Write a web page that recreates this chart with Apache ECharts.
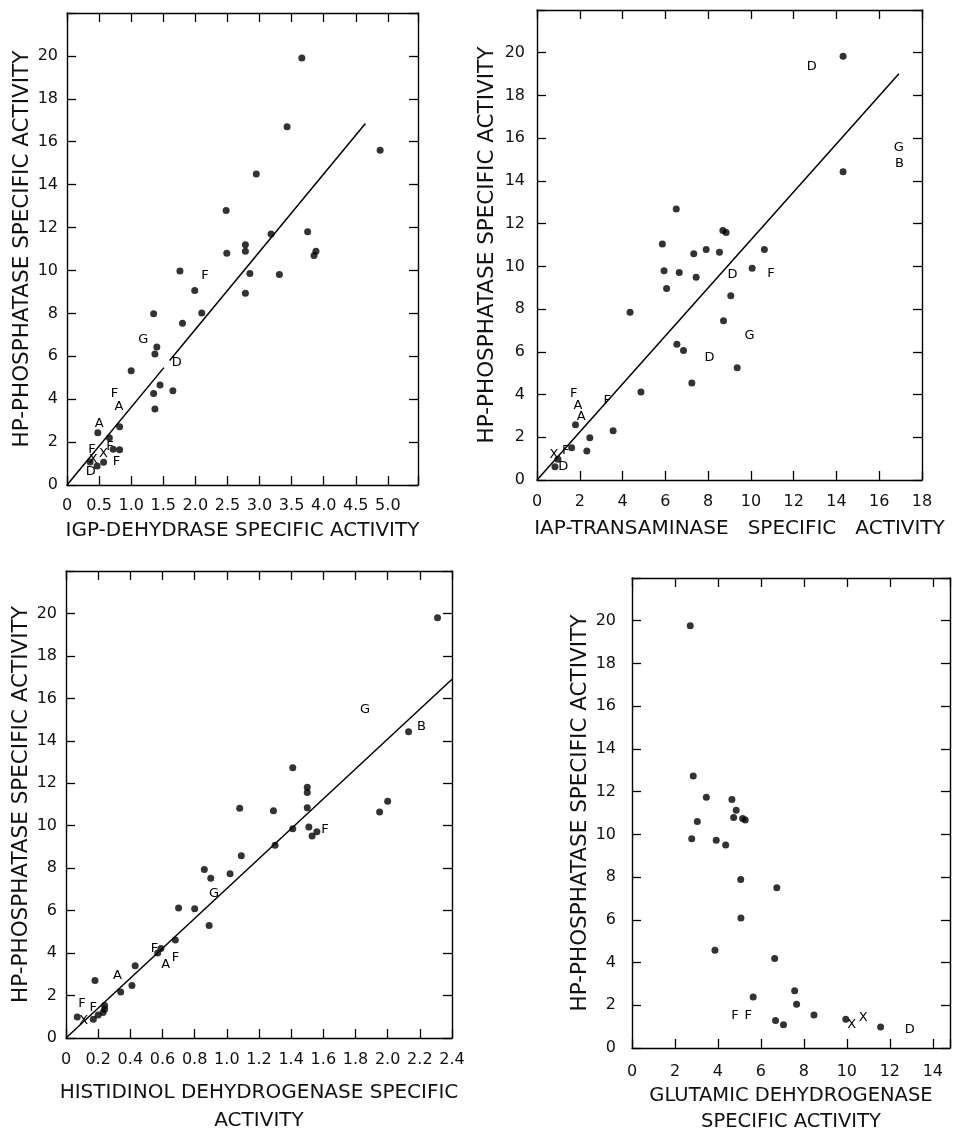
<!DOCTYPE html>
<html>
<head>
<meta charset="utf-8">
<script src="https://cdn.jsdelivr.net/npm/echarts@6/dist/echarts.min.js"></script>
<style>
html,body{margin:0;padding:0;background:#fff;}
#chart{width:955px;height:1136px;}
</style>
</head>
<body>
<div id="chart"></div>
<script>
// ---------- DATA ----------
var yTickLabels = ['0','2','4','6','8','10','12','14','16','18','20'];

// Panel 1: IGP-dehydrase
var p1XTicks = ['0','0.5','1.0','1.5','2.0','2.5','3.0','3.5','4.0','4.5','5.0'];
var p1Dots = [[3.66,19.9],[3.43,16.7],[4.88,15.6],[2.95,14.5],[2.48,12.8],[3.75,11.8],[3.18,11.7],
  [2.78,11.2],[2.78,10.9],[2.49,10.8],[3.88,10.9],[3.85,10.7],[1.76,9.97],[2.85,9.86],[3.31,9.81],
  [1.99,9.07],[2.78,8.94],[1.35,7.98],[2.10,8.02],[1.80,7.54],[1.40,6.43],[1.37,6.11],[1.00,5.33],
  [1.45,4.66],[1.35,4.27],[1.65,4.39],[1.37,3.54],[0.48,2.43],[0.82,2.72],[0.66,2.20],[0.72,1.67],
  [0.82,1.64],[0.57,1.06],[0.47,0.89],[0.36,1.07]];
var p1Letters = [['F',2.15,9.77],['G',1.19,6.78],['D',1.71,5.69],['F',0.74,4.28],['A',0.81,3.63],
  ['A',0.50,2.88],['F',0.39,1.67],['F',0.67,1.79],['X',0.57,1.45],['X',0.41,1.20],['F',0.77,1.09],['D',0.37,0.62]];
var p1LineA = [[0,0],[1.51,5.47]];
var p1LineB = [[1.60,5.80],[4.65,16.85]];

// Panel 2: IAP-transaminase
var p2XTicks = ['0','2','4','6','8','10','12','14','16','18'];
var p2Dots = [[14.31,19.83],[14.31,14.43],[6.51,12.69],[5.86,11.05],[8.69,11.68],[8.84,11.58],[7.33,10.59],
  [7.91,10.79],[8.53,10.66],[10.63,10.79],[5.94,9.79],[6.65,9.71],[7.44,9.49],[6.06,8.96],[10.06,9.91],
  [9.06,8.63],[4.35,7.85],[8.72,7.45],[6.54,6.35],[6.85,6.06],[9.36,5.25],[7.24,4.54],[4.86,4.12],
  [1.80,2.59],[3.56,2.31],[2.47,1.98],[2.33,1.36],[1.62,1.51],[0.98,0.97],[0.84,0.62]];
var p2Letters = [['D',12.84,19.36],['G',16.92,15.57],['B',16.95,14.79],['D',9.14,9.63],['F',10.94,9.68],
  ['G',9.94,6.74],['D',8.07,5.75],['F',1.72,4.06],['A',1.91,3.48],['A',2.07,2.97],['F',3.28,3.71],
  ['F',1.34,1.37],['X',0.79,1.17],['D',1.23,0.62]];
var p2Line = [[0,0],[16.92,19.02]];

// Panel 3: Histidinol dehydrogenase
var p3XTicks = ['0','0.2','0.4','0.6','0.8','1.0','1.2','1.4','1.6','1.8','2.0','2.2','2.4'];
var p3Dots = [[2.31,19.8],[2.13,14.43],[1.41,12.73],[1.50,11.81],[1.50,11.57],[1.50,10.85],[1.08,10.82],
  [1.29,10.70],[2.00,11.15],[1.95,10.65],[1.51,9.94],[1.56,9.72],[1.53,9.52],[1.41,9.86],[1.30,9.08],
  [1.09,8.59],[0.86,7.94],[1.02,7.74],[0.90,7.52],[0.70,6.12],[0.80,6.09],[0.89,5.30],[0.68,4.62],
  [0.59,4.22],[0.57,4.00],[0.43,3.40],[0.18,2.71],[0.41,2.47],[0.34,2.17],[0.24,1.53],[0.24,1.35],
  [0.23,1.20],[0.20,1.08],[0.07,0.99],[0.17,0.88]];
var p3Letters = [['G',1.86,15.49],['B',2.21,14.67],['F',1.61,9.83],['G',0.92,6.82],['F',0.55,4.22],
  ['A',0.62,3.44],['F',0.68,3.78],['A',0.32,2.93],['F',0.10,1.63],['F',0.17,1.43],['X',0.11,0.84]];
var p3Line = [[0,0],[2.4,16.9]];

// Panel 4: Glutamic dehydrogenase
var p4XTicks = ['0','2','4','6','8','10','12','14'];
var p4Dots = [[2.71,19.77],[2.85,12.73],[3.46,11.74],[4.65,11.63],[4.85,11.13],[4.73,10.79],[5.15,10.74],
  [5.27,10.67],[3.04,10.60],[2.78,9.80],[3.92,9.72],[4.36,9.50],[5.06,7.89],[6.74,7.50],[5.07,6.08],
  [3.86,4.57],[6.64,4.19],[7.57,2.68],[5.64,2.39],[7.66,2.05],[8.47,1.55],[6.68,1.29],[7.05,1.09],
  [9.95,1.35],[11.57,0.98]];
var p4Letters = [['F',4.79,1.52],['F',5.41,1.52],['X',10.22,1.09],['X',10.76,1.44],['D',12.93,0.87]];

var yTitle = 'HP-PHOSPHATASE SPECIFIC ACTIVITY';
var xTitles = ['IGP-DEHYDRASE SPECIFIC ACTIVITY','IAP-TRANSAMINASE   SPECIFIC   ACTIVITY',
  'HISTIDINOL DEHYDROGENASE SPECIFIC\nACTIVITY','GLUTAMIC DEHYDROGENASE\nSPECIFIC ACTIVITY'];

// ---------- LAYOUT ----------
var FONT = 'DejaVu Sans';
var INK = '#111';
var panels = [
  {grid:{left:67, top:13, width:351, height:472}, xmax:5.47, xint:0.5, xt:p1XTicks, dots:p1Dots, letters:p1Letters, lines:[p1LineA,p1LineB], yGap:29, xGap:32, xMargin:13, yMargin:9, lh:28, xfs:20, pad:[0,0,0,0]},
  {grid:{left:537, top:10, width:385, height:470}, xmax:18, xint:2, xt:p2XTicks, dots:p2Dots, letters:p2Letters, lines:[p2Line], yGap:39, xGap:35, xMargin:14, yMargin:12, lh:28, xfs:20, pad:[0,0,0,20]},
  {grid:{left:66, top:571, width:386, height:473}, xmax:2.4, xint:0.2, xt:p3XTicks, dots:p3Dots, letters:p3Letters, lines:[p3Line], yGap:29, xGap:41, xMargin:14, yMargin:9, lh:28, xfs:20, pad:[0,0,0,0]},
  {grid:{left:632, top:578, width:318, height:473}, xmax:14.8, xint:2, xt:p4XTicks, dots:p4Dots, letters:p4Letters, lines:[], yGap:41, xGap:35, xMargin:16, yMargin:16, lh:26, xfs:19.5, pad:[0,0,0,0]}
];

function labeler(labels, step){
  return function(v){
    var i = Math.round(v/step);
    if (Math.abs(v - i*step) < 1e-6 && i >= 0 && i < labels.length) return labels[i];
    return '';
  };
}

var grids=[], xAxes=[], yAxes=[], series=[];
var lineStyle = {color:'#000', width:1.4};
panels.forEach(function(p, k){
  grids.push(Object.assign({containLabel:false, show:false}, p.grid));
  var tick = {show:true, inside:true, length:9, lineStyle:{color:'#000', width:1.3}};
  var baseX = {type:'value', gridIndex:k, min:0, max:p.xmax, interval:p.xint, splitLine:{show:false},
    axisLine:{show:true, onZero:false, lineStyle:lineStyle}, axisTick:tick};
  var baseY = {type:'value', gridIndex:k, min:0, max:22, interval:2, splitLine:{show:false},
    axisLine:{show:true, onZero:false, lineStyle:lineStyle}, axisTick:tick};
  xAxes.push(Object.assign({}, baseX, {position:'bottom',
    axisLabel:{show:true, margin:p.xMargin, fontFamily:FONT, fontSize:16, color:INK, formatter:labeler(p.xt, p.xint), showMaxLabel:true},
    name:xTitles[k], nameLocation:'middle', nameGap:p.xGap,
    nameTextStyle:{fontFamily:FONT, fontSize:p.xfs, color:INK, lineHeight:p.lh, padding:p.pad}}));
  xAxes.push(Object.assign({}, baseX, {position:'top', axisLabel:{show:false}}));
  yAxes.push(Object.assign({}, baseY, {position:'left',
    axisLabel:{show:true, margin:p.yMargin, fontFamily:FONT, fontSize:16, color:INK, formatter:labeler(yTickLabels, 2)},
    name:yTitle, nameLocation:'middle', nameRotate:90, nameGap:p.yGap,
    nameTextStyle:{fontFamily:FONT, fontSize:21.5, color:INK}}));
  yAxes.push(Object.assign({}, baseY, {position:'right', axisLabel:{show:false}}));

  series.push({type:'scatter', xAxisIndex:2*k, yAxisIndex:2*k, data:p.dots, symbol:'circle', symbolSize:7,
    itemStyle:{color:'#000'}, silent:true, z:3});
  series.push({type:'scatter', xAxisIndex:2*k, yAxisIndex:2*k,
    data:p.letters.map(function(l){return {value:[l[1], l[2]], name:l[0]};}),
    symbolSize:1, itemStyle:{color:'rgba(0,0,0,0)'}, silent:true, z:4,
    label:{show:true, position:'inside', formatter:function(q){return q.name;}, fontFamily:FONT, fontSize:13, color:'#000', opacity:1}});
  p.lines.forEach(function(seg){
    series.push({type:'line', xAxisIndex:2*k, yAxisIndex:2*k, data:seg, symbol:'none',
      lineStyle:{color:'#000', width:1.5}, silent:true, z:2});
  });
});

var chart = echarts.init(document.getElementById('chart'), null, {renderer:'canvas'});
chart.setOption({
  animation:false,
  backgroundColor:'#fff',
  grid:grids, xAxis:xAxes, yAxis:yAxes, series:series
});
</script>
</body>
</html>
